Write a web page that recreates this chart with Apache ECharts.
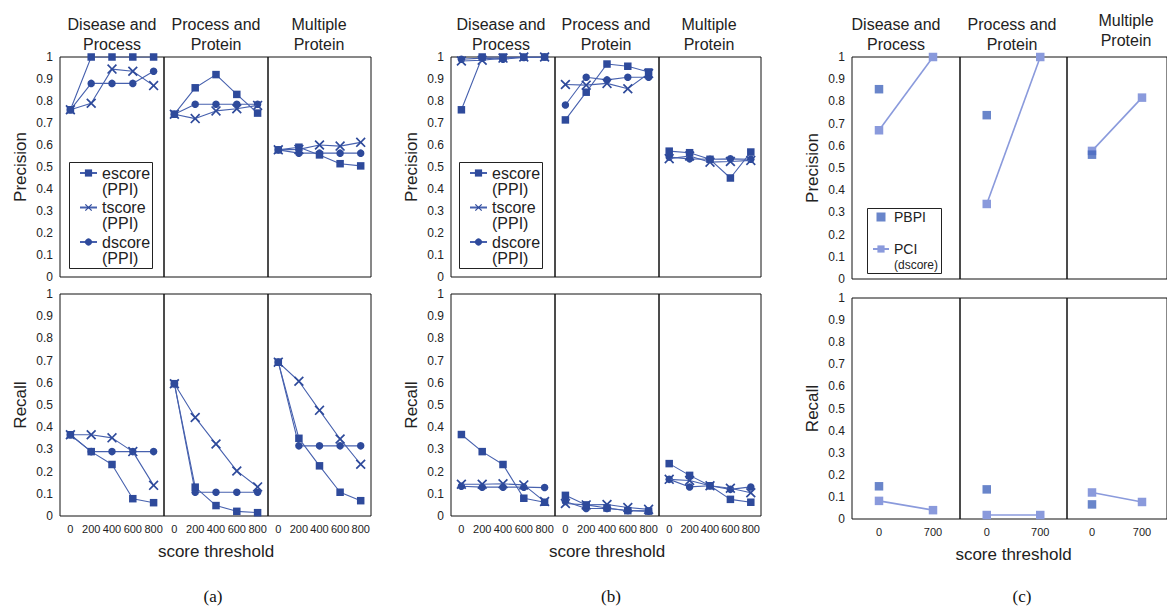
<!DOCTYPE html>
<html>
<head>
<meta charset="utf-8">
<script src="https://cdn.jsdelivr.net/npm/echarts@6/dist/echarts.min.js"></script>
<style>html,body{margin:0;padding:0;background:#fff}#chart{width:1167px;height:606px}</style>
</head>
<body>
<div id="chart"></div>
<script>
// ---------------- DATA ----------------
const thresholdsAB = ['0', '200', '400', '600', '800'];
const thresholdsC = ['0', '700'];
const groupTitles = ['Disease and\nProcess', 'Process and\nProtein', 'Multiple\nProtein'];
const seriesNamesAB = ['escore (PPI)', 'tscore (PPI)', 'dscore (PPI)'];
const seriesNamesC = ['PBPI', 'PCI (dscore)'];

// panel (a): rows = [Disease and Process, Process and Protein, Multiple Protein]
const aPrecEscore = [[0.76, 1, 1, 1, 1], [0.74, 0.86, 0.92, 0.83, 0.745], [0.578, 0.59, 0.555, 0.515, 0.505]];
const aPrecTscore = [[0.76, 0.79, 0.945, 0.935, 0.87], [0.74, 0.72, 0.755, 0.765, 0.78], [0.578, 0.58, 0.60, 0.595, 0.612]];
const aPrecDscore = [[0.76, 0.88, 0.88, 0.88, 0.935], [0.74, 0.785, 0.785, 0.785, 0.785], [0.578, 0.563, 0.563, 0.563, 0.563]];
const aRecEscore = [[0.366, 0.29, 0.232, 0.078, 0.06], [0.596, 0.13, 0.047, 0.021, 0.015], [0.693, 0.35, 0.226, 0.107, 0.069]];
const aRecTscore = [[0.366, 0.366, 0.352, 0.29, 0.138], [0.596, 0.444, 0.324, 0.203, 0.131], [0.693, 0.607, 0.476, 0.347, 0.233]];
const aRecDscore = [[0.366, 0.29, 0.29, 0.29, 0.29], [0.596, 0.107, 0.107, 0.107, 0.107], [0.693, 0.316, 0.316, 0.316, 0.316]];

// panel (b)
const bPrecEscore = [[0.76, 1, 1, 1, 1], [0.714, 0.84, 0.968, 0.958, 0.932], [0.572, 0.565, 0.535, 0.45, 0.568]];
const bPrecTscore = [[0.982, 0.985, 0.995, 1, 1], [0.875, 0.872, 0.88, 0.856, 0.925], [0.538, 0.55, 0.522, 0.525, 0.53]];
const bPrecDscore = [[0.99, 0.995, 0.99, 0.998, 1], [0.782, 0.908, 0.896, 0.908, 0.908], [0.545, 0.537, 0.535, 0.537, 0.535]];
const bRecEscore = [[0.367, 0.29, 0.232, 0.08, 0.062], [0.093, 0.05, 0.036, 0.024, 0.022], [0.236, 0.183, 0.136, 0.075, 0.062]];
const bRecTscore = [[0.143, 0.143, 0.145, 0.14, 0.065], [0.056, 0.05, 0.052, 0.038, 0.03], [0.165, 0.16, 0.136, 0.125, 0.105]];
const bRecDscore = [[0.134, 0.13, 0.13, 0.13, 0.128], [0.065, 0.034, 0.034, 0.025, 0.022], [0.165, 0.131, 0.136, 0.12, 0.131]];

// panel (c): PBPI only at threshold 0; PCI at 0 and 700
const cPrecPBPI = [0.855, 0.738, 0.56];
const cPrecPCI = [[0.67, 1], [0.338, 1], [0.577, 0.817]];
const cRecPBPI = [0.148, 0.134, 0.066];
const cRecPCI = [[0.082, 0.04], [0.018, 0.018], [0.12, 0.077]];

// ---------------- LAYOUT / STYLE ----------------
const FONT = '"Liberation Sans", Arial, sans-serif';
const SERIF = '"Liberation Serif", "Times New Roman", serif';
const TXT = '#222';
const DARK = '#2E4A9B';
const DARK_LINE = '#4761AE';
const PBPI_C = '#4466BD';
const PCI_C = '#8A9ADC';
const X_SYMBOL = 'path://M0,1.2L1.2,0L5,3.8L8.8,0L10,1.2L6.2,5L10,8.8L8.8,10L5,6.2L1.2,10L0,8.8L3.8,5Z';
const SQ_SYMBOL = 'path://M0 0H10V10H0Z';

const panels = [
  { xs: [60, 164, 268], ws: [104, 104, 103], top: [57, 220], bot: [294, 222], cats: thresholdsAB,
    titleX: [112, 216, 319], titleY: [24, 24, 24], label: '(a)', labelX: 213,
    data: [[aPrecEscore, aPrecTscore, aPrecDscore], [aRecEscore, aRecTscore, aRecDscore]] },
  { xs: [451, 555, 659], ws: [104, 104, 102], top: [57, 220], bot: [294, 222], cats: thresholdsAB,
    titleX: [501, 606, 709], titleY: [24, 24, 24], label: '(b)', labelX: 611,
    data: [[bPrecEscore, bPrecTscore, bPrecDscore], [bRecEscore, bRecTscore, bRecDscore]] },
  { xs: [852, 960, 1067], ws: [108, 107, 107], top: [57, 222], bot: [298, 221], cats: thresholdsC,
    titleX: [896, 1012, 1126], titleY: [24, 24, 20], label: '(c)', labelX: 1022,
    data: [[cPrecPBPI, cPrecPCI], [cRecPBPI, cRecPCI]] }
];

const grid = [], xAxis = [], yAxis = [], series = [], graphic = [];
const abSymbols = ['rect', X_SYMBOL, 'circle'];
const abSizes = [7.5, 10, 7.5];

panels.forEach((p, pi) => {
  [0, 1].forEach(row => {
    const vert = row === 0 ? p.top : p.bot;
    for (let g = 0; g < 3; g++) {
      const gi = grid.length;
      grid.push({ left: p.xs[g], top: vert[0], width: p.ws[g], height: vert[1],
        show: true, borderColor: '#111', borderWidth: 1, backgroundColor: 'transparent' });
      xAxis.push({
        type: 'category', gridIndex: gi, data: p.cats, boundaryGap: true,
        axisLine: { show: false }, axisTick: { show: false }, splitLine: { show: false },
        axisLabel: { show: row === 1, color: TXT, fontSize: 11, fontFamily: FONT, margin: 7, interval: 0 },
        name: (row === 1 && g === 1) ? 'score threshold' : '',
        nameLocation: 'middle', nameGap: 27,
        nameTextStyle: { fontSize: 17, color: TXT, fontFamily: FONT }
      });
      yAxis.push({
        type: 'value', gridIndex: gi, min: 0, max: 1, interval: 0.1,
        axisLine: { show: false }, axisTick: { show: false }, splitLine: { show: false },
        axisLabel: { show: g === 0, color: TXT, fontSize: 12, fontFamily: FONT, margin: 7,
          formatter: v => String(Math.round(v * 10) / 10) },
        name: g === 0 ? (row === 0 ? 'Precision' : 'Recall') : '',
        nameLocation: 'middle', nameGap: 31,
        nameTextStyle: { fontSize: 17, color: TXT, fontFamily: FONT }
      });
      if (pi < 2) {
        for (let s = 0; s < 3; s++) {
          series.push({
            type: 'line', name: seriesNamesAB[s], xAxisIndex: gi, yAxisIndex: gi,
            data: p.data[row][s][g], symbol: abSymbols[s], symbolSize: abSizes[s],
            showAllSymbol: true, animation: false,
            lineStyle: { color: DARK_LINE, width: 1.1 },
            itemStyle: { color: DARK, borderWidth: 0 }, z: 3 + (2 - s)
          });
        }
      } else {
        series.push({
          type: 'scatter', name: seriesNamesC[0], xAxisIndex: gi, yAxisIndex: gi,
          data: [p.data[row][0][g]], symbol: 'rect', symbolSize: 8.5, animation: false,
          itemStyle: { color: PBPI_C }, z: 4
        });
        series.push({
          type: 'line', name: seriesNamesC[1], xAxisIndex: gi, yAxisIndex: gi,
          data: p.data[row][1][g], symbol: 'rect', symbolSize: 8.5, showAllSymbol: true, animation: false,
          lineStyle: { color: PCI_C, width: 1.6 }, itemStyle: { color: PCI_C }, z: 3
        });
      }
    }
  });
  // group titles
  for (let g = 0; g < 3; g++) {
    graphic.push({ type: 'text', x: p.titleX[g], y: p.titleY[g] - 10,
      style: { text: groupTitles[g], fontSize: 16, fontFamily: FONT, fill: TXT, align: 'center',
        verticalAlign: 'top', lineHeight: 20 } });
  }
  graphic.push({ type: 'text', x: p.labelX, y: 596,
    style: { text: p.label, fontSize: 17, fontFamily: SERIF, fill: '#111', align: 'center', verticalAlign: 'middle' } });
});

// legend boxes
graphic.push({ type: 'rect', shape: { x: 69.5, y: 162.5, width: 83, height: 106 }, style: { fill: 'none', stroke: '#222', lineWidth: 1 }, z: 10 });
graphic.push({ type: 'rect', shape: { x: 459.5, y: 162.5, width: 83, height: 106 }, style: { fill: 'none', stroke: '#222', lineWidth: 1 }, z: 10 });
graphic.push({ type: 'rect', shape: { x: 867.5, y: 208.5, width: 74, height: 65 }, style: { fill: 'none', stroke: '#222', lineWidth: 1 }, z: 10 });

// a blank first line keeps the icon level with the first text line
const legendAB = left => ({
  left: left, top: 149, orient: 'vertical', padding: 0, itemWidth: 17, itemHeight: 9, itemGap: -13.5,
  data: seriesNamesAB, selectedMode: false,
  formatter: n => '\u00A0\n' + n.replace(' ', '\n'),
  textStyle: { fontSize: 16, lineHeight: 16, color: TXT, fontFamily: FONT }
});

const option = {
  backgroundColor: '#fff',
  animation: false,
  grid, xAxis, yAxis, series, graphic,
  legend: [
    legendAB(79),
    legendAB(469),
    {
      left: 872, top: 209, orient: 'vertical', padding: 0, itemWidth: 16, itemHeight: 9, itemGap: 0,
      selectedMode: false,
      data: [
        { name: 'PBPI', icon: SQ_SYMBOL },
        { name: 'PCI (dscore)', textStyle: { padding: [16, 0, 0, 0] } }
      ],
      formatter: n => n === 'PCI (dscore)' ? '{m|PCI}\n{s|(dscore)}' : n,
      textStyle: { fontSize: 14, lineHeight: 16, color: TXT, fontFamily: FONT,
        rich: { m: { fontSize: 14, lineHeight: 16, color: TXT, fontFamily: FONT },
                s: { fontSize: 12, lineHeight: 16, color: TXT, fontFamily: FONT } } }
    }
  ]
};

const chart = echarts.init(document.getElementById('chart'), null, { renderer: 'svg' });
chart.setOption(option);
</script>
</body>
</html>
